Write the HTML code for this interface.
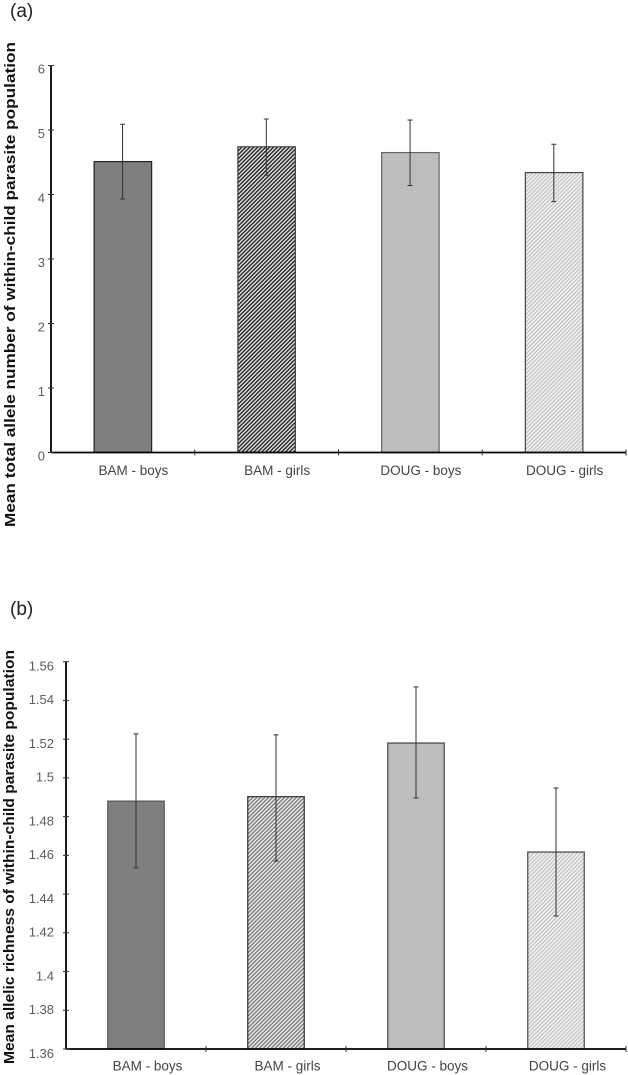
<!DOCTYPE html>
<html lang="en">
<head>
<meta charset="utf-8">
<title>Within-child parasite population charts</title>
<style>
  html, body { margin: 0; padding: 0; background: #fff; }
  body { width: 628px; height: 1075px; overflow: hidden; }
  svg { display: block; filter: blur(0.3px); }
  text { font-family: "Liberation Sans", Arial, sans-serif; }
  .tick-label { font-size: 13px; fill: #5c5c5c; }
  .cat-label { font-size: 13.5px; fill: #444; }
  .axis-title { font-size: 14.5px; font-weight: bold; fill: #111; }
  .panel-label { font-size: 19px; fill: #222; }
</style>
</head>
<body>
<svg id="figure" xmlns="http://www.w3.org/2000/svg" width="628" height="1075" viewBox="0 0 628 1075">
  <defs>
    <pattern id="hatch-dark" patternUnits="userSpaceOnUse" width="2.8" height="2.8" patternTransform="rotate(-45)">
      <rect width="2.8" height="2.8" fill="#dcdcdc"/>
      <rect width="2.8" height="1.4" fill="#2a2a2a"/>
    </pattern>
    <pattern id="hatch-mid" patternUnits="userSpaceOnUse" width="2.8" height="2.8" patternTransform="rotate(-45)">
      <rect width="2.8" height="2.8" fill="#e8e8e8"/>
      <rect width="2.8" height="1.2" fill="#707070"/>
    </pattern>
    <pattern id="hatch-light" patternUnits="userSpaceOnUse" width="2.8" height="2.8" patternTransform="rotate(-45)">
      <rect width="2.8" height="2.8" fill="#f2f2f2"/>
      <rect width="2.8" height="1.1" fill="#bcbcbc"/>
    </pattern>
  </defs>
  <text class="panel-label" x="10" y="17">(a)</text>
  <text class="panel-label" x="10" y="615">(b)</text>
  <text class="axis-title" transform="translate(15,527) rotate(-90)" textLength="485" lengthAdjust="spacingAndGlyphs">Mean total allele number of within-child parasite population</text>
  <text class="axis-title" transform="translate(14,1064) rotate(-90)" textLength="414" lengthAdjust="spacingAndGlyphs">Mean allelic richness of within-child parasite population</text>
</svg>
<script>
const categories = ["BAM - boys", "BAM - girls", "DOUG - boys", "DOUG - girls"];

const valuesA = [4.51, 4.74, 4.65, 4.34];
const errHighA = [5.09, 5.17, 5.155, 4.78];
const errLowA = [3.93, 4.30, 4.14, 3.89];
const ticksA = [0, 1, 2, 3, 4, 5, 6];
const tickLabelsA = ["0", "1", "2", "3", "4", "5", "6"];

const valuesB = [1.488, 1.4903, 1.518, 1.4617];
const errHighB = [1.5227, 1.5222, 1.547, 1.4948];
const errLowB = [1.4535, 1.457, 1.4896, 1.4287];
const ticksB = [1.36, 1.38, 1.40, 1.42, 1.44, 1.46, 1.48, 1.50, 1.52, 1.54, 1.56];
const tickLabelsB = ["1.36", "1.38", "1.4", "1.42", "1.44", "1.46", "1.48", "1.5", "1.52", "1.54", "1.56"];

const svg = document.getElementById('figure');
const NS = 'http://www.w3.org/2000/svg';

function shape(tag, attrs, parent) {
  const el = document.createElementNS(NS, tag);
  for (const k in attrs) el.setAttribute(k, attrs[k]);
  parent.appendChild(el);
  return el;
}

function drawPanel(cfg) {
  const g = shape('g', {}, svg);
  
  

  const yScale = v => cfg.y0 - (v - cfg.min) / (cfg.max - cfg.min) * (cfg.y0 - cfg.y1);
  const band = (cfg.x1 - cfg.x0) / cfg.categories.length;
  const xCenter = i => cfg.x0 + band * (i + 0.5);

  cfg.values.forEach((v, i) => {
    const bar = shape('rect', {
      x: xCenter(i) - cfg.barWidth / 2,
      y: yScale(v),
      width: cfg.barWidth,
      height: cfg.y0 - yScale(v),
      fill: cfg.fills[i],
      stroke: cfg.strokes[i],
      'stroke-width': 1.2
    }, g);
    
    
  });

  cfg.values.forEach((v, i) => {
    const cx = xCenter(i) + cfg.errShift;
    const hi = yScale(cfg.errHigh[i]);
    const lo = yScale(cfg.errLow[i]);
    const err = shape('path', {
      d: 'M' + cx + ' ' + hi + 'V' + lo + 'M' + (cx - 2.5) + ' ' + hi + 'H' + (cx + 2.5) + 'M' + (cx - 2.5) + ' ' + lo + 'H' + (cx + 2.5),
      fill: 'none',
      stroke: '#333',
      'stroke-width': 1
    }, g);
    
    
  });

  const yAxis = shape('line', { x1: cfg.x0, x2: cfg.x0, y1: cfg.y1, y2: cfg.y0, stroke: '#000', 'stroke-width': 1.8 }, g);
  
  

  const xAxis = shape('line', { x1: cfg.x0, x2: cfg.x1, y1: cfg.y0, y2: cfg.y0, stroke: '#000', 'stroke-width': 1.8 }, g);
  
  

  cfg.ticks.forEach((t, i) => {
    const y = yScale(t);
    const tick = shape('line', { x1: cfg.x0 - 3, x2: cfg.x0 + 3, y1: y, y2: y, stroke: '#333', 'stroke-width': 1 }, g);
    
    

    const drop = i % 2 === 0 ? cfg.labelDropEven : cfg.labelDropOdd;
    const label = shape('text', { x: cfg.x0 - cfg.labelGap, y: y + drop, 'text-anchor': 'end', class: 'tick-label' }, g);
    label.textContent = cfg.tickLabels[i];
    
    
  });

  for (let i = 1; i <= cfg.categories.length; i++) {
    const x = cfg.x0 + band * i;
    const tick = shape('line', { x1: x, x2: x, y1: cfg.y0 - 3, y2: cfg.y0 + 3, stroke: '#333', 'stroke-width': 1 }, g);
    
    
  }

  cfg.categories.forEach((c, i) => {
    const label = shape('text', { x: xCenter(i) + cfg.catShift, y: cfg.catY, 'text-anchor': 'middle', class: 'cat-label' }, g);
    label.textContent = c;
    
    
  });
}

drawPanel({
  id: 'panel-a',
  categories: categories,
  values: valuesA,
  errHigh: errHighA,
  errLow: errLowA,
  ticks: ticksA,
  tickLabels: tickLabelsA,
  min: 0, max: 6,
  x0: 51, x1: 626, y0: 452.5, y1: 65.5,
  barWidth: 57.5,
  errShift: -0.3,
  labelGap: 6,
  labelDropEven: 8,
  labelDropOdd: 8,
  catShift: 10.5,
  catY: 475,
  fills: ['#7f7f7f', 'url(#hatch-dark)', '#bdbdbd', 'url(#hatch-light)'],
  strokes: ['#222', '#444', '#666', '#444']
});

drawPanel({
  id: 'panel-b',
  categories: categories,
  values: valuesB,
  errHigh: errHighB,
  errLow: errLowB,
  ticks: ticksB,
  tickLabels: tickLabelsB,
  min: 1.36, max: 1.56,
  x0: 66, x1: 626, y0: 1049, y1: 661.7,
  barWidth: 56.5,
  errShift: 0,
  labelGap: 12,
  labelDropEven: 9,
  labelDropOdd: 3.5,
  catShift: 11.5,
  catY: 1070.5,
  fills: ['#7f7f7f', 'url(#hatch-mid)', '#bdbdbd', 'url(#hatch-light)'],
  strokes: ['#555', '#333', '#444', '#444']
});
</script>
</body>
</html>
